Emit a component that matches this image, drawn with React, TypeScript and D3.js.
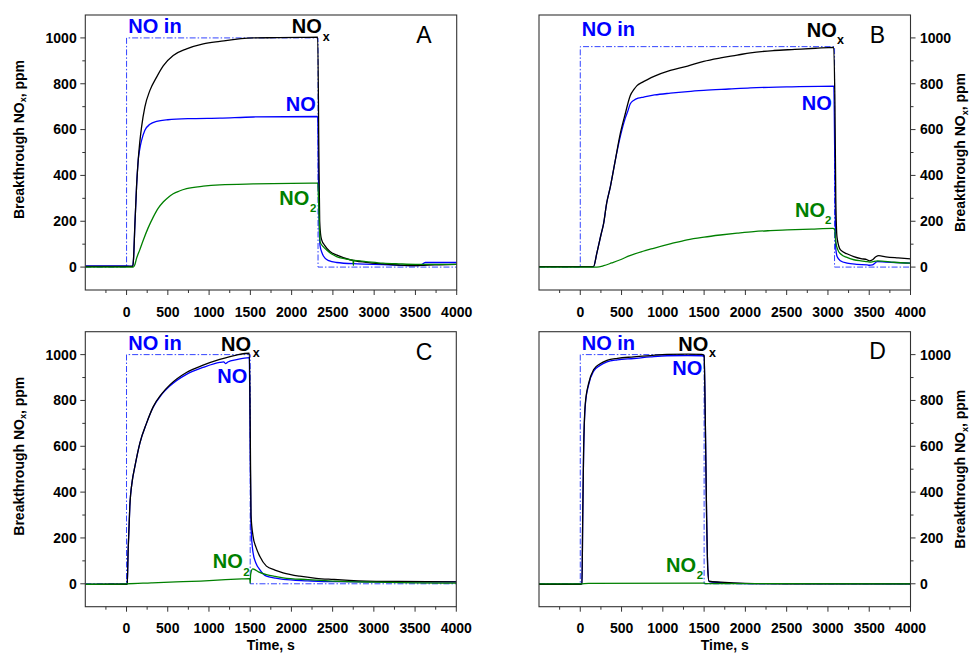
import React from 'react';
import * as d3 from 'd3';

type Pt = [number, number];

// ---- axes / ticks ----
const X_DOMAIN: [number, number] = [-500, 4000];
const Y_DOMAIN: [number, number] = [-100, 1100];
const X_MAJOR = [0, 500, 1000, 1500, 2000, 2500, 3000, 3500, 4000];
const X_MINOR = [-250, 250, 750, 1250, 1750, 2250, 2750, 3250, 3750];
const Y_MAJOR = [0, 200, 400, 600, 800, 1000];
const Y_MINOR = [100, 300, 500, 700, 900];
const PANEL_LETTERS = ['A', 'B', 'C', 'D'];

// ---- panel A ----
const A_NOIN: Pt[] = [[-500, 0], [0, 0], [0, 1000], [2320, 1000], [2320, 0], [4000, 0]];
const A_NOX: Pt[] = [[-500, 3], [0, 3], [75, 3], [85, 40], [100, 177], [121, 351], [141, 466], [160, 545], [182, 612], [222, 699], [283, 771], [364, 829], [444, 878], [565, 923], [727, 952], [929, 974], [1131, 985], [1535, 1000], [1800, 1001], [2100, 1002], [2316, 1003], [2330, 500], [2340, 200], [2352, 140], [2364, 119], [2400, 95], [2464, 68], [2550, 52], [2707, 32], [2900, 21], [3107, 14], [3300, 9], [3515, 6], [3600, 8], [3800, 10], [4000, 12]];
const A_NO: Pt[] = [[-500, 5], [0, 5], [75, 4], [85, 40], [100, 177], [121, 351], [141, 466], [160, 515], [182, 553], [222, 597], [283, 623], [364, 636], [500, 643], [800, 648], [1131, 650], [1535, 655], [2316, 657], [2328, 300], [2343, 97], [2370, 60], [2404, 39], [2450, 28], [2545, 20], [2800, 14], [3107, 11], [3500, 6], [3560, 8], [3620, 20], [3800, 20], [4000, 20]];
const A_NO2: Pt[] = [[-500, 0], [0, 0], [80, 0], [100, 10], [121, 38], [160, 75], [202, 117], [260, 170], [323, 218], [380, 255], [444, 284], [500, 303], [565, 320], [640, 332], [727, 342], [929, 353], [1131, 359], [1535, 363], [2000, 365], [2316, 366], [2330, 250], [2345, 110], [2380, 90], [2424, 75], [2480, 58], [2545, 46], [2650, 36], [2744, 29], [2748, 6], [2752, 29], [2900, 24], [3107, 17], [3300, 14], [3500, 12], [4000, 12]];

// ---- panel B ----
const B_NOIN: Pt[] = [[-500, 0], [0, 0], [0, 962], [3080, 962], [3080, 0], [4000, 0]];
const B_NOX: Pt[] = [[-500, 2], [0, 2], [160, 2], [200, 60], [250, 140], [283, 191], [320, 280], [364, 350], [424, 466], [485, 583], [545, 669], [606, 749], [650, 775], [687, 792], [750, 806], [808, 817], [900, 833], [1091, 858], [1300, 877], [1495, 898], [1700, 913], [1900, 925], [2061, 935], [2343, 945], [2600, 950], [2850, 955], [3070, 959], [3085, 700], [3095, 300], [3110, 130], [3152, 75], [3230, 58], [3313, 46], [3400, 37], [3475, 32], [3500, 27], [3540, 32], [3580, 45], [3616, 50], [3700, 45], [3850, 40], [4000, 36]];
const B_NO: Pt[] = [[-500, 2], [0, 2], [160, 2], [200, 60], [250, 140], [283, 191], [320, 280], [364, 350], [424, 466], [485, 570], [545, 650], [580, 685], [606, 713], [650, 728], [700, 737], [768, 742], [900, 751], [1091, 759], [1300, 766], [1495, 771], [1800, 777], [2061, 782], [2500, 786], [3071, 790], [3082, 500], [3095, 80], [3111, 46], [3150, 28], [3232, 17], [3350, 12], [3475, 10], [3500, 8], [3540, 10], [3600, 24], [3700, 22], [4000, 17]];
const B_NO2: Pt[] = [[-500, 0], [0, 0], [200, 0], [283, 6], [380, 18], [485, 32], [600, 50], [750, 68], [889, 82], [1100, 102], [1293, 119], [1500, 131], [1697, 140], [1900, 148], [2101, 155], [2300, 159], [2505, 162], [2800, 166], [3060, 169], [3080, 165], [3095, 110], [3120, 75], [3152, 58], [3230, 42], [3313, 32], [3400, 27], [3475, 24], [3520, 22], [3600, 27], [3800, 21], [4000, 17]];

// ---- panel C ----
const C_NOIN: Pt[] = [[-500, 0], [0, 0], [0, 1000], [1500, 1000], [1500, 0], [4000, 0]];
const C_NOX: Pt[] = [[-500, -3], [-200, -2], [0, -2], [8, 0], [20, 150], [40, 338], [70, 450], [101, 511], [162, 614], [242, 700], [323, 772], [424, 828], [525, 868], [727, 922], [929, 954], [1131, 979], [1333, 998], [1490, 1006], [1500, 700], [1510, 300], [1535, 207], [1570, 160], [1616, 120], [1697, 77], [1800, 60], [1899, 48], [2101, 33], [2300, 24], [2505, 19], [2700, 15], [2909, 12], [3300, 10], [4000, 8]];
const C_NO: Pt[] = [[-500, -3], [0, -2], [8, 0], [20, 150], [40, 338], [70, 450], [101, 511], [162, 614], [242, 700], [323, 770], [424, 825], [525, 863], [727, 914], [929, 944], [1131, 966], [1180, 968], [1200, 961], [1230, 968], [1333, 978], [1490, 987], [1500, 600], [1510, 250], [1535, 135], [1570, 90], [1616, 62], [1697, 33], [1800, 25], [1900, 19], [2200, 13], [2500, 9], [3000, 8], [4000, 8]];
const C_NO2: Pt[] = [[-500, -2], [0, 0], [300, 4], [600, 8], [900, 12], [1200, 18], [1400, 21], [1495, 22], [1500, 2], [1505, 40], [1530, 65], [1600, 52], [1697, 40], [1800, 32], [1900, 26], [2200, 18], [2500, 12], [3000, 7], [3500, 4], [4000, 3]];

// ---- panel D ----
const D_NOIN: Pt[] = [[-500, 0], [0, 0], [0, 1000], [1500, 1000], [1500, 0], [4000, 0]];
const D_NOX: Pt[] = [[-500, -2], [0, -2], [20, 0], [30, 300], [40, 570], [61, 787], [101, 874], [162, 935], [240, 960], [323, 975], [450, 984], [646, 990], [850, 996], [1051, 1001], [1300, 1002], [1475, 1001], [1500, 995], [1515, 700], [1530, 300], [1545, 60], [1560, 11], [1700, 7], [2000, 2], [2500, 0], [3000, 0], [4000, 0]];
const D_NO: Pt[] = [[-500, -2], [0, -2], [20, 0], [30, 300], [40, 565], [61, 780], [101, 868], [162, 928], [240, 953], [323, 968], [450, 977], [646, 983], [850, 990], [1051, 995], [1300, 996], [1475, 995], [1500, 990], [1515, 700], [1530, 300], [1545, 60], [1560, 9], [1700, 5], [2000, 1], [4000, 0]];
const D_NO2: Pt[] = [[-500, 0], [0, 0], [100, 2], [1500, 3], [1520, 1], [4000, 0]];

const FONT = "'Liberation Sans', Arial, Helvetica, sans-serif";
const BLUE = '#0000ff';
const GREEN = '#008000';
const DASH_BLUE = '#3344ff';

interface Label { x: number; y: number; sx?: number; sy?: number }
interface PanelCfg {
  x0: number; x1: number; y0: number; y1: number;
  side: 'left' | 'right';
  letter: string; letterX: number; letterY: number;
  noin: Pt[]; nox: Pt[]; no: Pt[]; no2: Pt[];
  lNoin: Label; lNox: Label; lNo: Label; lNo2: Label;
  showXTitle: boolean;
}

const panels: PanelCfg[] = [
  {
    x0: 85.3, x1: 456.7, y0: 15, y1: 290, side: 'left', letter: PANEL_LETTERS[0], letterX: 424, letterY: 43,
    noin: A_NOIN, nox: A_NOX, no: A_NO, no2: A_NO2,
    lNoin: { x: 128.3, y: 33 }, lNox: { x: 291.7, y: 33, sx: 322.7, sy: 40.7 },
    lNo: { x: 285.7, y: 110.7 }, lNo2: { x: 279.3, y: 205, sx: 310, sy: 212 }, showXTitle: false,
  },
  {
    x0: 539, x1: 910.5, y0: 15, y1: 290, side: 'right', letter: PANEL_LETTERS[1], letterX: 877.5, letterY: 43,
    noin: B_NOIN, nox: B_NOX, no: B_NO, no2: B_NO2,
    lNoin: { x: 581.7, y: 35.7 }, lNox: { x: 806.7, y: 36.7, sx: 837, sy: 44 },
    lNo: { x: 801.7, y: 110 }, lNo2: { x: 795, y: 216.7, sx: 825, sy: 224 }, showXTitle: false,
  },
  {
    x0: 85.3, x1: 456.3, y0: 331.7, y1: 606.7, side: 'left', letter: PANEL_LETTERS[2], letterX: 424, letterY: 360,
    noin: C_NOIN, nox: C_NOX, no: C_NO, no2: C_NO2,
    lNoin: { x: 128.3, y: 350 }, lNox: { x: 221, y: 350.7, sx: 252.7, sy: 356.7 },
    lNo: { x: 217.3, y: 383.3 }, lNo2: { x: 212.7, y: 568.3, sx: 243.3, sy: 576 }, showXTitle: true,
  },
  {
    x0: 539, x1: 910.5, y0: 331.7, y1: 606.7, side: 'right', letter: PANEL_LETTERS[3], letterX: 877.5, letterY: 359,
    noin: D_NOIN, nox: D_NOX, no: D_NO, no2: D_NO2,
    lNoin: { x: 581.7, y: 350 }, lNox: { x: 678.3, y: 350.7, sx: 709, sy: 356.7 },
    lNo: { x: 672.3, y: 375 }, lNo2: { x: 666, y: 571.7, sx: 696.7, sy: 579.3 }, showXTitle: true,
  },
];

function Panel({ cfg, idx }: { cfg: PanelCfg; idx: number }) {
  const x = d3.scaleLinear().domain(X_DOMAIN).range([cfg.x0, cfg.x1]);
  const y = d3.scaleLinear().domain(Y_DOMAIN).range([cfg.y1, cfg.y0]);
  const smooth = d3.line<Pt>().x(d => x(d[0])).y(d => y(d[1])).curve(d3.curveMonotoneX);
  const straight = d3.line<Pt>().x(d => x(d[0])).y(d => y(d[1]));
  const clipId = `clip${idx}`;
  const left = cfg.side === 'left';
  const axX = left ? cfg.x0 : cfg.x1;
  const dir = left ? -1 : 1;
  const cy = (cfg.y0 + cfg.y1) / 2;
  const labelCy = left ? cy - 13 : cy;
  const labelX = left ? 23.5 : 965;
  return (
    <g>
      <defs>
        <clipPath id={clipId}>
          <rect x={cfg.x0} y={cfg.y0} width={cfg.x1 - cfg.x0} height={cfg.y1 - cfg.y0} />
        </clipPath>
      </defs>
      <g clipPath={`url(#${clipId})`} fill="none">
        <path d={straight(cfg.noin) || ''} stroke={DASH_BLUE} strokeWidth={1} strokeDasharray="6,2,1.5,2" />
        <path d={smooth(cfg.no) || ''} stroke={BLUE} strokeWidth={1.3} />
        <path d={smooth(cfg.nox) || ''} stroke="#000" strokeWidth={1.3} />
        <path d={smooth(cfg.no2) || ''} stroke={GREEN} strokeWidth={1.3} />
      </g>
      <rect x={cfg.x0} y={cfg.y0} width={cfg.x1 - cfg.x0} height={cfg.y1 - cfg.y0} fill="none" stroke="#333" strokeWidth={1.1} />
      {X_MAJOR.map(t => (
        <line key={'xm' + t} x1={x(t)} x2={x(t)} y1={cfg.y1} y2={cfg.y1 + 5} stroke="#333" strokeWidth={1} />
      ))}
      {X_MINOR.map(t => (
        <line key={'xn' + t} x1={x(t)} x2={x(t)} y1={cfg.y1} y2={cfg.y1 + 3} stroke="#333" strokeWidth={1} />
      ))}
      {X_MAJOR.map(t => (
        <text key={'xl' + t} x={x(t)} y={cfg.y1 + 26.7} textAnchor="middle" fontFamily={FONT} fontWeight="bold" fontSize={14} fill="#000">{t}</text>
      ))}
      {Y_MAJOR.map(v => (
        <line key={'ym' + v} x1={axX} x2={axX + dir * 5} y1={y(v)} y2={y(v)} stroke="#333" strokeWidth={1} />
      ))}
      {Y_MINOR.map(v => (
        <line key={'yn' + v} x1={axX} x2={axX + dir * 3} y1={y(v)} y2={y(v)} stroke="#333" strokeWidth={1} />
      ))}
      {Y_MAJOR.map(v => (
        <text key={'yl' + v} x={left ? axX - 8.6 : axX + 9.5} y={y(v)} dy="0.35em" textAnchor={left ? 'end' : 'start'} fontFamily={FONT} fontWeight="bold" fontSize={14} fill="#000">{v}</text>
      ))}
      <text transform={`translate(${labelX},${labelCy}) rotate(-90)`} textAnchor="middle" fontFamily={FONT} fontWeight="bold" fontSize={14} fill="#000">
        Breakthrough NO<tspan fontSize={9} dy={2.5}>x</tspan><tspan dy={-2.5}>, ppm</tspan>
      </text>
      {cfg.showXTitle && (
        <text x={(cfg.x0 + cfg.x1) / 2} y={650} textAnchor="middle" fontFamily={FONT} fontWeight="bold" fontSize={14} fill="#000">Time, s</text>
      )}
      <text x={cfg.letterX} y={cfg.letterY} textAnchor="middle" fontFamily={FONT} fontSize={23} fill="#000">{cfg.letter}</text>
      <text x={cfg.lNoin.x} y={cfg.lNoin.y} fontFamily={FONT} fontWeight="bold" fontSize={20} fill={BLUE}>NO in</text>
      <text x={cfg.lNox.x} y={cfg.lNox.y} fontFamily={FONT} fontWeight="bold" fontSize={20} fill="#000">NO</text>
      <text x={cfg.lNox.sx} y={cfg.lNox.sy} fontFamily={FONT} fontWeight="bold" fontSize={12.5} fill="#000">x</text>
      <text x={cfg.lNo.x} y={cfg.lNo.y} fontFamily={FONT} fontWeight="bold" fontSize={20} fill={BLUE}>NO</text>
      <text x={cfg.lNo2.x} y={cfg.lNo2.y} fontFamily={FONT} fontWeight="bold" fontSize={20} fill={GREEN}>NO</text>
      <text x={cfg.lNo2.sx} y={cfg.lNo2.sy} fontFamily={FONT} fontWeight="bold" fontSize={11.5} fill={GREEN}>2</text>
    </g>
  );
}

export default function App() {
  return (
    <svg width={971} height={653} viewBox="0 0 971 653" style={{ position: 'absolute', left: 0, top: 0, background: '#fff' }}>
      <rect x={0} y={0} width={971} height={653} fill="#fff" />
      {panels.map((p, i) => <Panel key={i} cfg={p} idx={i} />)}
    </svg>
  );
}
